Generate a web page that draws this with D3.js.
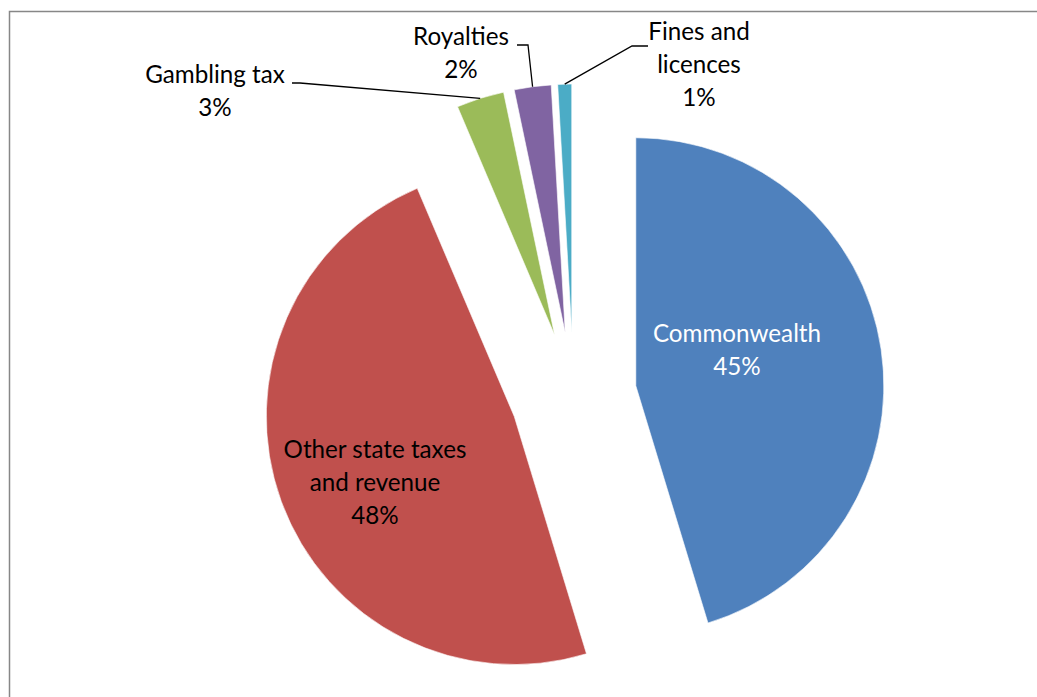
<!DOCTYPE html>
<html>
<head>
<meta charset="utf-8">
<script src="https://cdn.jsdelivr.net/npm/d3@7"></script>
<style>
  html, body { margin: 0; padding: 0; background: #ffffff; }
  svg { display: block; }
  text { font-family: "Lato", "Open Sans", sans-serif; }
</style>
</head>
<body>
<script>
// Revenue sources (share of total, %)
const categories = ["Commonwealth", "Other state taxes and revenue", "Gambling tax", "Royalties", "Fines and licences"];
const shares = [45.3, 48.3, 3.1, 2.4, 0.9];
const colors = ["#4F81BD", "#C0504D", "#9BBB59", "#8064A2", "#4BACC6"];
// Label text lines for each slice (percentage appended from the value)
const labelLines = [["Commonwealth"], ["Other state taxes", "and revenue"], ["Gambling tax"], ["Royalties"], ["Fines and", "licences"]];

const W = 1037, H = 697;
const cx = 573.5, cy = 395;      // pie centre
const radius = 248;
const explode = 63;              // distance each slice is pulled out
const lineH = 33;
const fontSize = 24.2;

// Label layout: inside labels sit in the slice, outside ones use a leader line
const labelLayout = [
  { inside: true,  x: 737, y: 342, fill: "#ffffff" },
  { inside: true,  x: 375, y: 458, fill: "#000000" },
  { inside: false, x: 215, y: 83,  knee: [300, 83], tail: [292, 83] },
  { inside: false, x: 461, y: 45,  knee: [528, 45], tail: [517, 45] },
  { inside: false, x: 699, y: 40,  knee: [632, 46], tail: [648, 46] }
];

const svg = d3.select("body").append("svg")
  .attr("width", W).attr("height", H);

svg.append("rect").attr("width", W).attr("height", H).attr("fill", "#ffffff");

// chart area frame
svg.append("rect")
  .attr("x", 9.5).attr("y", 11.5)
  .attr("width", W + 20).attr("height", H + 20)
  .attr("fill", "none")
  .attr("stroke", "#878787")
  .attr("stroke-width", 1.5);

const data = categories.map((c, i) => ({ name: c, value: shares[i], color: colors[i], lines: labelLines[i], layout: labelLayout[i] }));

const pie = d3.pie().value(d => d.value).sort(null).startAngle(0).endAngle(2 * Math.PI);
const arcs = pie(data);
const arc = d3.arc().innerRadius(0).outerRadius(radius);

const g = svg.append("g").attr("transform", `translate(${cx},${cy})`);

function offset(a) {
  const mid = (a.startAngle + a.endAngle) / 2;
  return [explode * Math.sin(mid), -explode * Math.cos(mid)];
}

g.selectAll("path.slice")
  .data(arcs)
  .join("path")
  .attr("class", "slice")
  .attr("d", arc)
  .attr("fill", d => d.data.color)
  .attr("stroke", "#ffffff")
  .attr("stroke-width", 0.6)
  .attr("transform", d => { const o = offset(d); return `translate(${o[0]},${o[1]})`; });

// leader lines for the small slices
arcs.forEach(a => {
  const L = a.data.layout;
  if (L.inside) return;
  const o = offset(a);
  const mid = (a.startAngle + a.endAngle) / 2;
  const px = cx + o[0] + radius * Math.sin(mid);
  const py = cy + o[1] - radius * Math.cos(mid);
  svg.append("path")
    .attr("d", d3.line()([[px, py], L.knee, L.tail]))
    .attr("fill", "none")
    .attr("stroke", "#000000")
    .attr("stroke-width", 1.3);
});

// labels
arcs.forEach(a => {
  const L = a.data.layout;
  const lines = a.data.lines.concat([Math.round(a.data.value) + "%"]);
  const t = svg.append("text")
    .attr("text-anchor", "middle")
    .attr("font-size", fontSize)
    .attr("fill", L.fill || "#000000");
  lines.forEach((s, i) => {
    t.append("tspan").attr("x", L.x).attr("y", L.y + i * lineH).text(s);
  });
});
</script>
</body>
</html>
